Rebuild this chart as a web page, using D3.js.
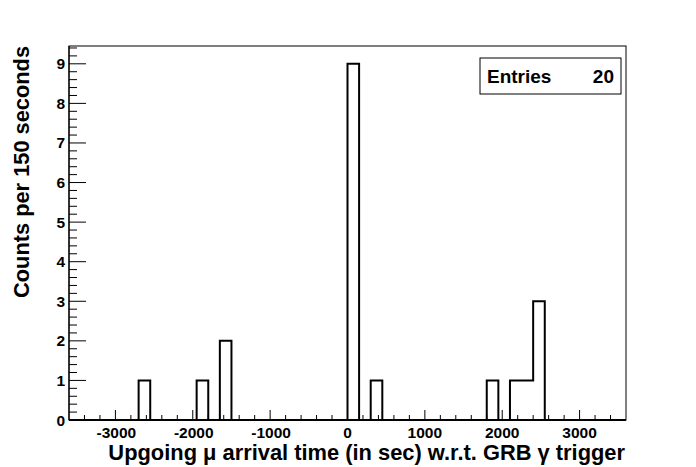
<!DOCTYPE html>
<html><head><meta charset="utf-8">
<script src="https://cdn.jsdelivr.net/npm/d3@7"></script>
<style>body{margin:0;background:#fff}svg{display:block}text{font-family:"Liberation Sans",Arial,sans-serif;font-weight:bold;fill:#000}</style>
</head><body><svg id="c" width="696" height="467"></svg>
<script>
// Histogram: 150 s bins from -3600 to 3600; only non-empty bins listed
const binLow = [-2700, -1950, -1650, 0, 300, 1800, 2100, 2250, 2400];
const binCounts = [1, 1, 2, 9, 1, 1, 1, 1, 3];
const binWidth = 150;
const xRange = [-3600, 3600];
const xTickValues = [-3000, -2000, -1000, 0, 1000, 2000, 3000];
const yTickValues = [0, 1, 2, 3, 4, 5, 6, 7, 8, 9];
const entries = 20;
const xTitle = "Upgoing \u03bc arrival time (in sec) w.r.t. GRB \u03b3 trigger";
const yTitle = "Counts per 150 seconds";

const svg = d3.select("#c");
const L = 69, R = 626, T = 46, B = 420;
const x = d3.scaleLinear().domain(xRange).range([L, R]);
const y = d3.scaleLinear().domain([0, 9.45]).range([B, T]);

// full bin list
const nb = (xRange[1] - xRange[0]) / binWidth;
const full = d3.range(nb).map(i => {
  const lo = xRange[0] + i * binWidth;
  const k = binLow.indexOf(lo);
  return {lo, c: k >= 0 ? binCounts[k] : 0};
});
const pts = full.map(d => [d.lo, d.c]).concat([[xRange[1], 0]]);

// frame
svg.append("rect").attr("x", L).attr("y", T).attr("width", R - L).attr("height", B - T)
  .attr("fill", "none").attr("stroke", "#000").attr("stroke-width", 1);

// histogram outline
svg.append("path")
  .attr("d", d3.line().x(d => x(d[0])).y(d => y(d[1])).curve(d3.curveStepAfter)(pts))
  .attr("fill", "none").attr("stroke", "#000").attr("stroke-width", 2);

// axis lines
svg.append("line").attr("x1", L).attr("x2", R).attr("y1", B).attr("y2", B)
  .attr("stroke", "#000").attr("stroke-width", 2);
svg.append("line").attr("x1", L).attr("x2", L).attr("y1", T).attr("y2", B)
  .attr("stroke", "#000").attr("stroke-width", 1.2);

// x ticks
const xMinor = d3.range(-3400, 3600, 200).filter(v => v % 1000 !== 0);
svg.append("g").selectAll("line").data(xMinor).join("line")
  .attr("x1", d => x(d)).attr("x2", d => x(d)).attr("y1", B).attr("y2", B - 5)
  .attr("stroke", "#000");
svg.append("g").selectAll("line").data(xTickValues).join("line")
  .attr("x1", d => x(d)).attr("x2", d => x(d)).attr("y1", B).attr("y2", B - 10)
  .attr("stroke", "#000");
svg.append("g").selectAll("text").data(xTickValues).join("text")
  .attr("x", d => x(d) + (d < 0 ? 1 : 0)).attr("y", 438).attr("text-anchor", "middle")
  .attr("font-size", 15.5).text(d => d);

// y ticks
const yMinor = d3.range(1, 48).map(i => i * 0.2).filter(v => Math.abs(v - Math.round(v)) > 1e-6);
svg.append("g").selectAll("line").data(yMinor).join("line")
  .attr("x1", L).attr("x2", L + 8).attr("y1", d => y(d)).attr("y2", d => y(d))
  .attr("stroke", "#000");
svg.append("g").selectAll("line").data(yTickValues).join("line")
  .attr("x1", L).attr("x2", L + 17).attr("y1", d => y(d)).attr("y2", d => y(d))
  .attr("stroke", "#000");
svg.append("g").selectAll("text").data(yTickValues).join("text")
  .attr("x", 65).attr("y", d => y(d) + 5.5).attr("text-anchor", "end")
  .attr("font-size", 15.5).text(d => d);

// titles
const xt = svg.append("text").attr("x", 625).attr("y", 460).attr("text-anchor", "end")
  .attr("font-size", 20).text(xTitle);
const xl = xt.node().getComputedTextLength();
xt.attr("font-size", 20 * 517 / xl);
const yt = svg.append("text").attr("transform", "translate(29,46) rotate(-90)")
  .attr("text-anchor", "end").attr("font-size", 20).text(yTitle);
const yl = yt.node().getComputedTextLength();
yt.attr("font-size", 20 * 252 / yl);

// stats box
svg.append("rect").attr("x", 480).attr("y", 58).attr("width", 141).attr("height", 36)
  .attr("fill", "#fff").attr("stroke", "#000").attr("stroke-width", 1);
svg.append("text").attr("x", 487).attr("y", 83).attr("font-size", 19).text("Entries");
svg.append("text").attr("x", 614).attr("y", 83).attr("text-anchor", "end").attr("font-size", 19).text(entries);
</script></body></html>
